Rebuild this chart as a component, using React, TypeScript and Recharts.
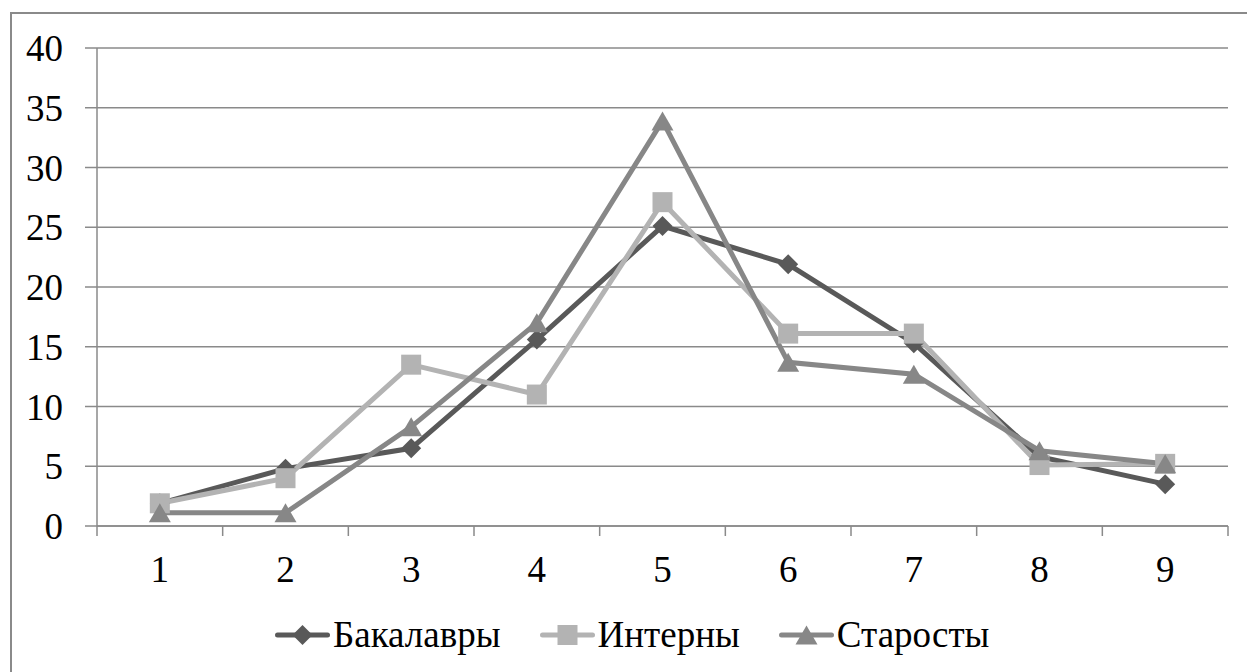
import React from 'react';
import { LineChart, Line, XAxis, YAxis, CartesianGrid, Legend } from 'recharts';

const categories = ['1', '2', '3', '4', '5', '6', '7', '8', '9'];
const bakalavry = [1.9, 4.8, 6.5, 15.6, 25.1, 21.9, 15.3, 5.8, 3.5];
const interny = [1.9, 4.0, 13.5, 11.0, 27.1, 16.1, 16.1, 5.1, 5.2];
const starosty = [1.1, 1.1, 8.3, 17.0, 33.9, 13.7, 12.7, 6.3, 5.2];
const yTicks = [0, 5, 10, 15, 20, 25, 30, 35, 40];
const seriesNames = ['Бакалавры', 'Интерны', 'Старосты'];

const COLORS = ['#595959', '#b3b3b3', '#878787'];
const GRID = '#8a8a8a';
const FONT = '"Liberation Serif", "Times New Roman", serif';
const FS = 37;

const data = categories.map((c, i) => ({
  x: i + 1,
  cat: c,
  b: bakalavry[i],
  i: interny[i],
  s: starosty[i],
}));

const xTicks: number[] = [];
categories.forEach((_, i) => {
  xTicks.push(i + 0.5);
  xTicks.push(i + 1);
});
xTicks.push(categories.length + 0.5);

const Diamond = ({ cx, cy, fill, r = 10 }: any) => (
  <path d={`M${cx},${cy - r} L${cx + r},${cy} L${cx},${cy + r} L${cx - r},${cy} Z`} fill={fill} />
);
const Square = ({ cx, cy, fill, r = 10 }: any) => (
  <rect x={cx - r} y={cy - r} width={2 * r} height={2 * r} fill={fill} />
);
const Triangle = ({ cx, cy, fill, w = 22, h = 19 }: any) => (
  <path d={`M${cx},${cy - h / 2} L${cx + w / 2},${cy + h / 2} L${cx - w / 2},${cy + h / 2} Z`} fill={fill} />
);

const markers = [Diamond, Square, Triangle];

const makeDot = (idx: number) => (props: any) => {
  const { cx, cy, index } = props;
  if (cx == null || cy == null) return <g key={index} />;
  const M = markers[idx];
  return <M key={index} cx={cx} cy={cy} fill={COLORS[idx]} />;
};

const XTick = (props: any) => {
  const { x, y, payload } = props;
  const v = payload.value;
  if (v % 1 !== 0) {
    return <line x1={x} x2={x} y1={y} y2={y + 10} stroke={GRID} strokeWidth={1.5} />;
  }
  return (
    <text x={x} y={y + 56} textAnchor="middle" fontSize={FS} fontFamily={FONT} fill="#000">
      {categories[v - 1]}
    </text>
  );
};

const LegendContent = () => (
  <div style={{ display: 'flex', alignItems: 'center', fontFamily: FONT, fontSize: FS, color: '#000' }}>
    {seriesNames.map((name, idx) => {
      const M = markers[idx];
      return (
        <div key={name} style={{ display: 'flex', alignItems: 'center', marginRight: idx < 2 ? 38 : 0 }}>
          <svg width={57} height={24} style={{ display: 'block' }}>
            <line x1={3.5} x2={53.5} y1={12} y2={12} stroke={COLORS[idx]} strokeWidth={5} strokeLinecap="round" />
            <M cx={28.5} cy={12} fill={COLORS[idx]} />
          </svg>
          <span style={{ marginLeft: 2, lineHeight: '44px', whiteSpace: 'nowrap' }}>{name}</span>
        </div>
      );
    })}
  </div>
);

export default function App() {
  return (
    <div style={{ position: 'absolute', left: 0, top: 0, width: 1247, height: 672, overflow: 'hidden', background: '#fff' }}>
      <div
        style={{
          position: 'absolute',
          left: 10,
          top: 12,
          width: 1260,
          height: 700,
          border: `2px solid ${GRID}`,
          boxSizing: 'border-box',
        }}
      />
      <div style={{ position: 'absolute', left: 0, top: 0 }}>
        <LineChart width={1247} height={672} data={data} margin={{ top: 48, right: 19, left: 0, bottom: 86 }}>
          <CartesianGrid vertical={false} stroke={GRID} strokeWidth={1.5} />
          <XAxis
            dataKey="x"
            type="number"
            domain={[0.5, categories.length + 0.5]}
            ticks={xTicks}
            interval={0}
            tickLine={false}
            tickSize={0}
            tickMargin={0}
            axisLine={{ stroke: GRID, strokeWidth: 1.5 }}
            tick={<XTick />}
            height={60}
          />
          <YAxis
            domain={[0, 40]}
            ticks={yTicks}
            interval={0}
            width={97}
            tickSize={12}
            tickMargin={22}
            tickLine={{ stroke: GRID, strokeWidth: 1.5 }}
            axisLine={{ stroke: GRID, strokeWidth: 1.5 }}
            tick={{ fontSize: FS, fontFamily: FONT, fill: '#000' }}
          />
          <Legend
            verticalAlign="middle"
            layout="horizontal"
            content={<LegendContent />}
            wrapperStyle={{ position: 'absolute', left: 274, top: 613, width: 'auto' }}
          />
          <Line dataKey="b" name={seriesNames[0]} stroke={COLORS[0]} strokeWidth={5} dot={makeDot(0)} activeDot={false} isAnimationActive={false} />
          <Line dataKey="i" name={seriesNames[1]} stroke={COLORS[1]} strokeWidth={5} dot={makeDot(1)} activeDot={false} isAnimationActive={false} />
          <Line dataKey="s" name={seriesNames[2]} stroke={COLORS[2]} strokeWidth={5} dot={makeDot(2)} activeDot={false} isAnimationActive={false} />
        </LineChart>
      </div>
    </div>
  );
}
